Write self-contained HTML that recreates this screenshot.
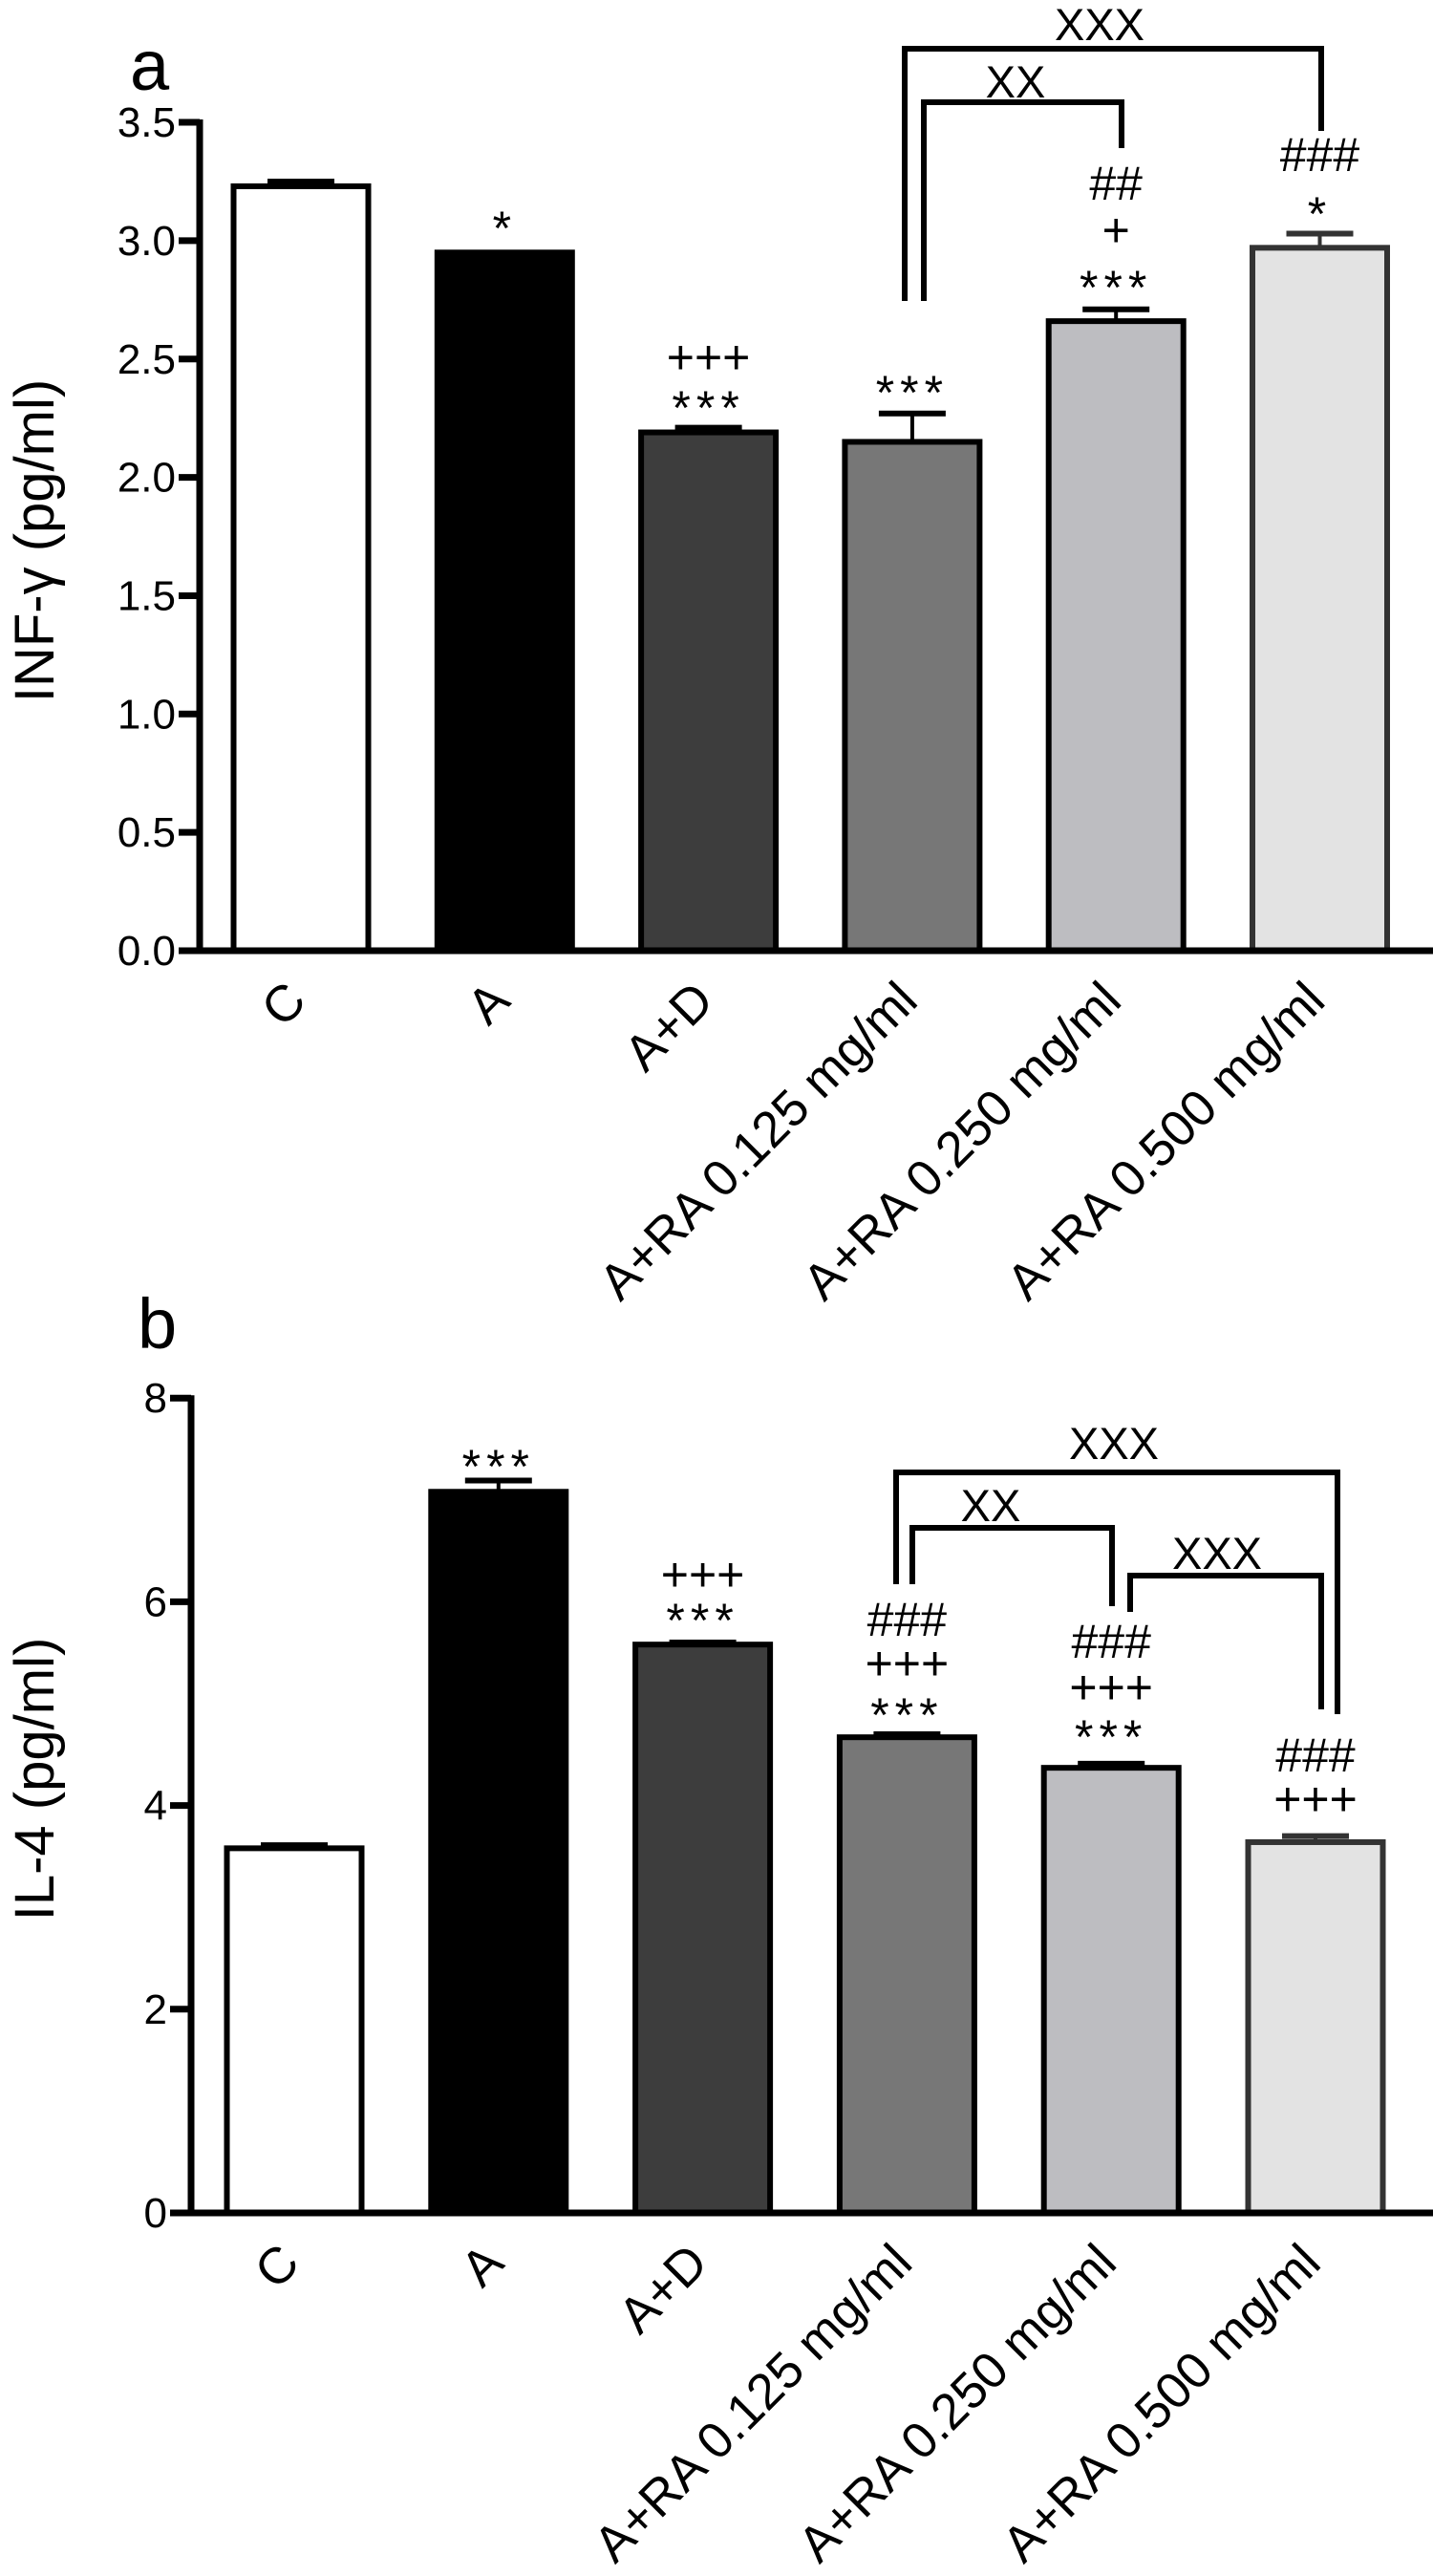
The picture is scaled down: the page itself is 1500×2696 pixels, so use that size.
<!DOCTYPE html>
<html><head><meta charset="utf-8"><style>
html,body{margin:0;padding:0;background:#fff}
svg{display:block}
text{font-family:"Liberation Sans",sans-serif;fill:#000}
</style></head><body>
<svg id="fig" width="1500" height="2696" viewBox="0 0 1500 2696" xmlns="http://www.w3.org/2000/svg">
<g id="pa"></g>
<g id="pb"></g>
</svg>
<script>
const categories = ["C","A","A+D","A+RA 0.125 mg/ml","A+RA 0.250 mg/ml","A+RA 0.500 mg/ml"];
const infgValues = [3.23, 2.95, 2.19, 2.15, 2.66, 2.97];
const infgErrors = [0.02, 0.00, 0.02, 0.12, 0.05, 0.06];
const infgTicks = [0,0.5,1.0,1.5,2.0,2.5,3.0,3.5];
const infgTickLabels = ["0.0","0.5","1.0","1.5","2.0","2.5","3.0","3.5"];
const il4Values = [3.58, 7.08, 5.58, 4.67, 4.37, 3.64];
const il4Errors = [0.03, 0.11, 0.02, 0.03, 0.04, 0.06];
const il4Ticks = [0,2,4,6,8];
const il4TickLabels = ["0","2","4","6","8"];
const infgMarks = [["*"],["+++","***"],["***"],["##","+","***"],["###","*"]];
const il4Marks = [["***"],["+++","***"],["###","+++","***"],["###","+++","***"],["###","+++"]];

const fills = ["#ffffff","#000000","#3d3d3d","#777777","#bdbdc1","#e3e3e3"];
const strokes = ["#000","#000","#000","#000","#000","#333"];
const NS = "http://www.w3.org/2000/svg";
function mk(parent, tag, attrs, txt){
  const e = document.createElementNS(NS, tag);
  for (const k in attrs) e.setAttribute(k, attrs[k]);
  if (txt !== undefined) e.textContent = txt;
  parent.appendChild(e);
  return e;
}

function drawPanel(g, cfg){
  const yS = v => cfg.y0 - v * cfg.pxPerUnit;
  const xS = i => cfg.x0c + i * cfg.step;
  cfg.values.forEach((v,i)=>{
    const cx = xS(i), top = yS(v), bw = 141;
    const eTop = yS(v + cfg.errors[i]);
    if (cfg.errors[i] > 0.005){
      const ev = mk(g,"line",{x1:cx,y1:top,x2:cx,y2:eTop,stroke:strokes[i],"stroke-width":4});
      
      
      const cap = mk(g,"line",{x1:cx-35,y1:eTop,x2:cx+35,y2:eTop,stroke:strokes[i],"stroke-width":6});
      
      
    }
    const r = mk(g,"rect",{x:cx-bw/2,y:top,width:bw,height:cfg.y0-top,fill:fills[i],stroke:strokes[i],"stroke-width":6});
    
    
    const t = mk(g,"text",{x:0,y:0,"font-size":53,"text-anchor":"end",transform:`translate(${cx+8},${cfg.y0+55}) rotate(-45)`},categories[i]);
    
    
    if (i>0){
      const lines = cfg.marks[i-1];
      lines.forEach((s,j)=>{
        const cy = cfg.markY[i-1][j];
        const isStar = s[0]==='*';
        const m = mk(g,"text",{x:cx,y:cy + (isStar?26:16),"font-size":50,"text-anchor":"middle","letter-spacing":isStar?6:0},s);
        
        
      });
    }
  });
  const ya = mk(g,"line",{x1:cfg.ax,y1:yS(cfg.ticks[cfg.ticks.length-1])-3,x2:cfg.ax,y2:cfg.y0+3,stroke:"#000","stroke-width":7});
  
  
  const xa = mk(g,"line",{x1:cfg.ax-22,y1:cfg.y0,x2:1500,y2:cfg.y0,stroke:"#000","stroke-width":7});
  
  
  cfg.ticks.forEach((v,i)=>{
    const y = yS(v);
    const tk = mk(g,"line",{x1:cfg.ax-22,y1:y,x2:cfg.ax,y2:y,stroke:"#000","stroke-width":7});
    
    
    const tl = mk(g,"text",{x:cfg.ax-25,y:y+15,"font-size":44,"text-anchor":"end"},cfg.tickLabels[i]);
    
    
  });
  const yt = mk(g,"text",{x:0,y:0,"font-size":58,"text-anchor":"middle",transform:`translate(${cfg.titleX},${cfg.titleY}) rotate(-90)`},cfg.title);
  
  
  const pl = mk(g,"text",{x:cfg.lblX,y:cfg.lblY,"font-size":74},cfg.lbl);
  
  
  cfg.brackets.forEach(b=>{
    const p = mk(g,"polyline",{points:`${b[0]},${b[1]} ${b[0]},${b[2]} ${b[3]},${b[2]} ${b[3]},${b[4]}`,fill:"none",stroke:"#000","stroke-width":6});
    
    
    const bt = mk(g,"text",{x:b[5],y:b[6]+17,"font-size":47,"text-anchor":"middle"},b[7]);
    
    
  });
}

drawPanel(document.getElementById('pa'),{
  y0:995, pxPerUnit:247.7, x0c:315, step:213.3, ax:209,
  values:infgValues, errors:infgErrors, ticks:infgTicks, tickLabels:infgTickLabels,
  marks:infgMarks,
  markY:[[230],[375,418],[402],[193,242,292],[163,215]],
  title:"INF-γ (pg/ml)", titleX:56, titleY:566,
  lbl:"a", lblX:136, lblY:94,
  brackets:[[947,315,51,1383,137,1151,25,"XXX"],[967,315,107,1174,155,1063,85,"XX"]]
});
drawPanel(document.getElementById('pb'),{
  y0:2316, pxPerUnit:106.6, x0c:308, step:213.8, ax:200,
  values:il4Values, errors:il4Errors, ticks:il4Ticks, tickLabels:il4TickLabels,
  marks:il4Marks,
  markY:[[1526],[1649,1687],[1696,1742,1786],[1719,1767,1809],[1838,1884]],
  title:"IL-4 (pg/ml)", titleX:56, titleY:1862,
  lbl:"b", lblX:144, lblY:1411,
  brackets:[[938,1658,1541,1400,1794,1166,1510,"XXX"],[955,1658,1599,1164,1681,1037,1575,"XX"],[1183,1687,1649,1383,1789,1274,1625,"XXX"]]
});
</script>
</body></html>
